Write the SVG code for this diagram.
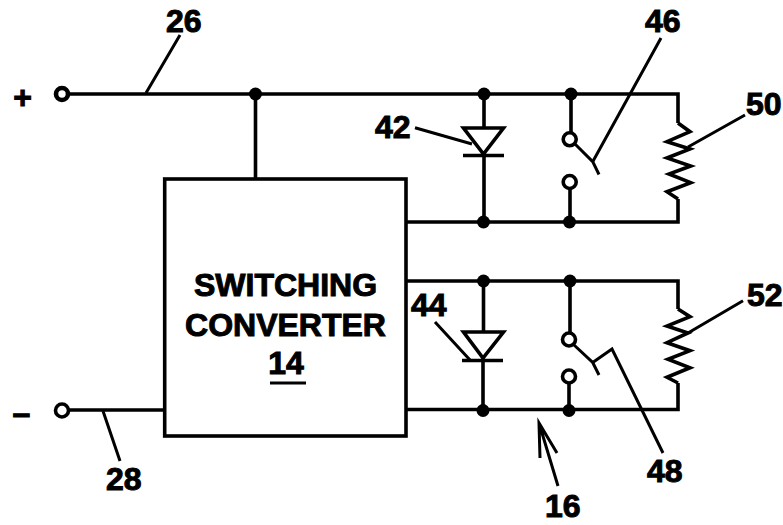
<svg xmlns="http://www.w3.org/2000/svg" width="783" height="525" viewBox="0 0 783 525">
<style>
.w{fill:none;stroke:#000;stroke-width:3.6;stroke-linejoin:miter}
.l{fill:none;stroke:#000;stroke-width:3}
.d{fill:#000}
.t{fill:none;stroke:#000;stroke-width:3.6}
text{font-family:"Liberation Sans",Arial,sans-serif;font-weight:bold;font-size:32px;fill:#000;stroke:#000;stroke-width:1}
</style>
<rect width="783" height="525" fill="#fff"/>
<g id="connectors">
<path class="w" d="M69 94H678V123M255.500 94V179M406 222H678V199M571 94V132M570 189V222M484 94V128M484 155V222"/>
<path class="w" d="M406 281H678V309M678 383V409.500H406M164 410H69M570 281V333M569 383V410M483.500 281V332M483 360V410"/>
<path class="l" d="M180 35L146 93M103 411L120 461M415 127.700L472 144M661 38L592.700 161.700M745 115L688 147M435 322L470 360M743 300.700L688 333M592.700 362.500L612 349L663 453M558 486L539 423M540 458L539 423L557 453"/>
</g>
<g id="switching-converter">
<rect x="164.700" y="179" width="241.300" height="257" fill="#fff" stroke="#000" stroke-width="3.6"/>
<text x="285.500" y="296" text-anchor="middle" font-size="32">SWITCHING</text>
<text x="285.500" y="336" text-anchor="middle" font-size="32">CONVERTER</text>
<text x="286" y="374" text-anchor="middle">14</text>
<path d="M270 383H306" stroke="#000" stroke-width="3"/>
</g>
<g id="terminal-plus"><circle cx="62" cy="94" r="6" fill="#fff" stroke="#000" stroke-width="4.600"/><text x="22.500" y="108" text-anchor="middle" font-size="38">+</text></g>
<g id="terminal-minus"><circle class="t" cx="62" cy="410.500" r="6.500" stroke-width="4"/><text x="21.500" y="423.500" text-anchor="middle" font-size="50">–</text></g>
<g id="junctions">
<circle class="d" cx="255.500" cy="94" r="6.500"/><circle class="d" cx="484" cy="94" r="6.500"/><circle class="d" cx="571" cy="94" r="6.500"/><circle class="d" cx="483.500" cy="222" r="6.500"/><circle class="d" cx="569.500" cy="222" r="6.500"/>
<circle class="d" cx="483.500" cy="281" r="6.500"/><circle class="d" cx="570" cy="281" r="6.500"/><circle class="d" cx="483" cy="410.500" r="6.500"/><circle class="d" cx="569" cy="410.500" r="6.500"/>
</g>
<g id="diode-42"><path class="w" d="M463.500 128H503.500L483.500 154ZM463 155.500H504"/><text x="375" y="138">42</text></g>
<g id="diode-44"><path class="w" d="M463.500 332H503.500L483 358ZM462 360.500H503"/><text x="411" y="316">44</text></g>
<g id="switch-46"><circle class="t" cx="569.700" cy="139.300" r="6.500"/><circle class="t" cx="569.700" cy="182" r="6.500"/><path class="l" d="M575 144L592.700 161.700L599 174.500"/><text x="645" y="32">46</text></g>
<g id="switch-48"><circle class="t" cx="569" cy="339.500" r="6.500"/><circle class="t" cx="569" cy="376.500" r="6.500"/><path class="l" d="M574 345L592.700 362.500L599 375"/><text x="647" y="482">48</text></g>
<g id="resistor-50"><path class="w" d="M678 123L690 131.700L667 141.700L690 149L667 158L690.700 166L669 174L690.700 182.700L667 191.700L678 199"/><text x="746" y="115">50</text></g>
<g id="resistor-52"><path class="w" d="M678 309L690 316.700L667 326L688 333L667 342.700L690 350.700L668 359.300L690 367.700L667 377.300L678 383"/><text x="747" y="306">52</text></g>
<g id="labels"><text x="166" y="32">26</text><text x="106" y="490">28</text><text x="545" y="517">16</text></g>
</svg>
